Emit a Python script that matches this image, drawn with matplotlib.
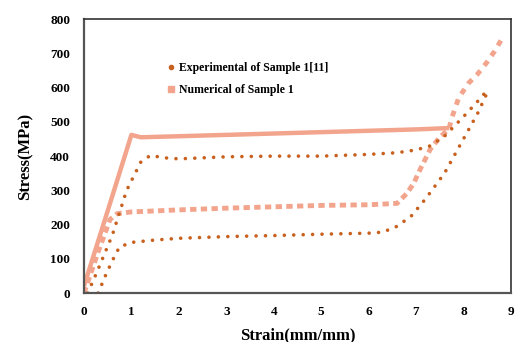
import matplotlib.pyplot as plt
from matplotlib.lines import Line2D

# Datos (deformacion mm/mm, esfuerzo MPa)
exp1_x = [0.08, 0.3, 0.6, 0.9, 1.2, 1.4, 1.7, 2.0, 2.5, 3.0, 4.0, 5.0, 6.0, 6.6, 7.0, 7.3, 7.6, 8.0, 8.3, 8.55]
exp1_y = [0, 70, 170, 300, 383, 402, 395, 392, 395, 398, 400, 400, 405, 410, 418, 430, 458, 515, 560, 600]

exp2_x = [0.3, 0.45, 0.6, 0.75, 0.85, 1.0, 1.5, 2.0, 3.0, 4.0, 5.0, 6.0, 6.3, 6.6, 6.9, 7.2, 7.6, 8.0, 8.3, 8.55]
exp2_y = [0, 50, 95, 135, 140, 148, 155, 160, 165, 168, 172, 175, 178, 195, 225, 275, 350, 450, 525, 600]

num1_x = [0.0, 0.5, 1.0, 1.2, 3.0, 5.0, 7.0, 7.7, 7.75, 7.9, 8.1, 8.3, 8.5, 8.65, 8.8]
num1_y = [20, 240, 462, 455, 462, 470, 478, 482, 510, 570, 612, 640, 675, 705, 740]

num2_x = [0.0, 0.3, 0.55, 0.7, 1.0, 2.0, 3.0, 4.0, 5.0, 6.0, 6.6, 6.8, 6.95, 7.1, 7.3, 7.5, 7.7]
num2_y = [0, 120, 215, 232, 237, 243, 248, 252, 256, 258, 262, 290, 320, 365, 420, 455, 480]

color_exp = '#C8601E'
color_num = '#F2A58C'

plt.rcParams['font.family'] = ['Liberation Serif', 'DejaVu Serif']
plt.rcParams['font.weight'] = 'bold'

fig = plt.figure(figsize=(5.15, 3.42), dpi=100)
ax = fig.add_axes([0.163, 0.143, 0.829, 0.801])

# Numerico: tramo superior continuo, el resto con cuadros separados
corte = 8
ax.plot(num1_x[:corte], num1_y[:corte], color=color_num, linewidth=3.2, solid_capstyle='butt')
ax.plot(num1_x[corte - 1:], num1_y[corte - 1:], color=color_num, linewidth=3.5,
        linestyle=(0, (1.2, 1.3)))
ax.plot(num2_x, num2_y, color=color_num, linewidth=3.5, linestyle=(0, (1.3, 0.9)))

# Experimental: puntos
ax.plot(exp1_x, exp1_y, color=color_exp, linewidth=2.6, linestyle=(0, (0.01, 2.6)),
        dash_capstyle='round')
ax.plot(exp2_x, exp2_y, color=color_exp, linewidth=2.6, linestyle=(0, (0.01, 2.6)),
        dash_capstyle='round')

ax.set_xlim(0, 9)
ax.set_ylim(0, 800)
ax.set_xticks(range(0, 10))
ax.set_yticks(range(0, 801, 100))
ax.tick_params(length=0, labelsize=9.5)
ax.tick_params(axis='x', pad=9)
ax.tick_params(axis='y', pad=10)
for lab in ax.get_xticklabels() + ax.get_yticklabels():
    lab.set_fontweight('bold')

for s in ['left', 'bottom']:
    ax.spines[s].set_linewidth(1.6)
    ax.spines[s].set_color('#555555')
for s in ['top', 'right']:
    ax.spines[s].set_linewidth(1.2)
    ax.spines[s].set_color('#333333')

ax.set_xlabel('Strain(mm/mm)', fontsize=12, fontweight='bold', labelpad=7)
ax.set_ylabel('Stress(MPa)', fontsize=12, fontweight='bold', labelpad=12)

handles = [
    Line2D([], [], linestyle='none', marker='o', markersize=3, color=color_exp),
    Line2D([], [], linestyle='none', marker='s', markersize=4, color=color_num),
]
ax.legend(handles, ['Experimental of Sample 1[11]', 'Numerical of Sample 1'],
          loc='upper left', bbox_to_anchor=(0.185, 0.86), frameon=False,
          prop={'size': 8.5, 'weight': 'bold'}, handlelength=0.6, handletextpad=0.4,
          labelspacing=0.8, borderaxespad=0)

fig.savefig('out.png', dpi=100)
